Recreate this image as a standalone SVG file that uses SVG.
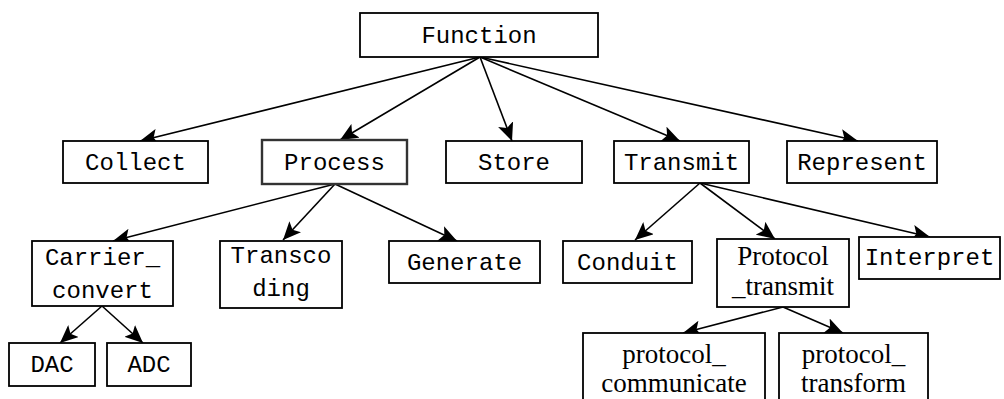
<svg xmlns="http://www.w3.org/2000/svg" width="1004" height="399" viewBox="0 0 1004 399">
  <style>
    .box { fill: #fff; stroke: #000; stroke-width: 1.8; }
    .box.sel { stroke: #333; stroke-width: 2.4; }
    .mono { font-family: "Liberation Mono", "DejaVu Sans Mono", monospace; font-size: 24px; fill: #000; text-anchor: middle; }
    .serif { font-family: "Liberation Serif", "DejaVu Serif", serif; font-size: 27px; fill: #000; text-anchor: middle; }
    .edge { fill: none; stroke: #000; stroke-width: 1.6; marker-end: url(#arrow); }
  </style>
  <defs>
    <marker id="arrow" markerUnits="userSpaceOnUse" markerWidth="20" markerHeight="16" refX="18" refY="8" orient="auto">
      <path d="M0,0 L18,8 L0,16 L4,8 Z" fill="#000"/>
    </marker>
  </defs>
  <rect width="1004" height="399" fill="#fff"/>

  <!-- connectors -->
  <g id="connectors">
    <line class="edge" x1="480" y1="57" x2="140" y2="141"/>
    <line class="edge" x1="480" y1="57" x2="340" y2="140"/>
    <line class="edge" x1="480" y1="57" x2="512" y2="141"/>
    <line class="edge" x1="480" y1="57" x2="680" y2="141"/>
    <line class="edge" x1="480" y1="57" x2="858" y2="141"/>

    <line class="edge" x1="335" y1="184" x2="113" y2="241"/>
    <line class="edge" x1="335" y1="184" x2="283" y2="240"/>
    <line class="edge" x1="335" y1="184" x2="457" y2="241"/>

    <line class="edge" x1="700" y1="183" x2="635" y2="240"/>
    <line class="edge" x1="700" y1="183" x2="775" y2="239"/>
    <line class="edge" x1="700" y1="183" x2="930" y2="237"/>

    <line class="edge" x1="102" y1="306" x2="60" y2="343"/>
    <line class="edge" x1="102" y1="306" x2="143" y2="343"/>

    <line class="edge" x1="783" y1="307" x2="683" y2="333"/>
    <line class="edge" x1="783" y1="307" x2="843" y2="333"/>
  </g>

  <g id="function">
    <rect class="box" x="360" y="13" width="238" height="44"/>
    <text class="mono" x="479" y="43">Function</text>
  </g>

  <g id="collect">
    <rect class="box" x="63" y="141" width="145" height="42"/>
    <text class="mono" x="135.5" y="170">Collect</text>
  </g>
  <g id="process">
    <rect class="box sel" x="262" y="140" width="145" height="44"/>
    <text class="mono" x="334.5" y="170">Process</text>
  </g>
  <g id="store">
    <rect class="box" x="446" y="141" width="136" height="42"/>
    <text class="mono" x="514" y="170">Store</text>
  </g>
  <g id="transmit">
    <rect class="box" x="614" y="141" width="135" height="42"/>
    <text class="mono" x="681.5" y="170">Transmit</text>
  </g>
  <g id="represent">
    <rect class="box" x="787" y="141" width="150" height="42"/>
    <text class="mono" x="862" y="170">Represent</text>
  </g>

  <g id="carrier-convert">
    <rect class="box" x="32" y="241" width="141" height="65"/>
    <text class="mono" x="102.5" y="265">Carrier_</text>
    <text class="mono" x="102.5" y="298">convert</text>
  </g>
  <g id="transcoding">
    <rect class="box" x="220" y="241" width="122" height="67"/>
    <text class="mono" x="281" y="263">Transco</text>
    <text class="mono" x="281" y="296">ding</text>
  </g>
  <g id="generate">
    <rect class="box" x="389" y="241" width="151" height="42"/>
    <text class="mono" x="464.5" y="270">Generate</text>
  </g>

  <g id="conduit">
    <rect class="box" x="563" y="241" width="129" height="42"/>
    <text class="mono" x="627.5" y="270">Conduit</text>
  </g>
  <g id="protocol-transmit">
    <rect class="box" x="717" y="239" width="132" height="68"/>
    <text class="serif" x="783" y="265">Protocol</text>
    <text class="serif" x="783" y="295">_transmit</text>
  </g>
  <g id="interpret">
    <rect class="box" x="859" y="237" width="141" height="42"/>
    <text class="mono" x="929.5" y="265">Interpret</text>
  </g>

  <g id="dac">
    <rect class="box" x="9" y="343" width="86" height="43"/>
    <text class="mono" x="52" y="372">DAC</text>
  </g>
  <g id="adc">
    <rect class="box" x="107" y="343" width="84" height="43"/>
    <text class="mono" x="149" y="372">ADC</text>
  </g>

  <g id="protocol-communicate">
    <rect class="box" x="583" y="333" width="182" height="80"/>
    <text class="serif" x="674" y="363">protocol_</text>
    <text class="serif" x="674" y="392">communicate</text>
  </g>
  <g id="protocol-transform">
    <rect class="box" x="779" y="333" width="149" height="80"/>
    <text class="serif" x="853.5" y="363">protocol_</text>
    <text class="serif" x="853.5" y="392">transform</text>
  </g>
</svg>
